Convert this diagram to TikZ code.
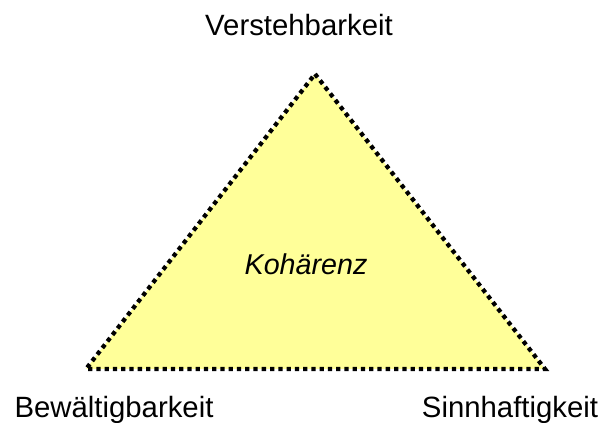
\documentclass[tikz,border=0pt]{standalone}
\usepackage{fontspec}
\setmainfont{Liberation Sans}
\begin{document}
\begin{tikzpicture}[x=0.75pt,y=-0.75pt,
  label/.style={font=\fontsize{22}{26}\selectfont, anchor=base, inner sep=0pt},
  tri/.style={fill=yellowfill, draw=black, line width=3.2pt, dash pattern=on 3.2pt off 3pt}]
\definecolor{yellowfill}{HTML}{FFFF99}
\useasboundingbox (0,0) rectangle (600,423);
\coordinate (top) at (315,74);
\coordinate (left) at (86,369);
\coordinate (right) at (545,369);
\filldraw[tri] (top) -- (right) -- (left) -- cycle;
\node[label] (v) at (299,36) {Verstehbarkeit};
\node[label] (b) at (114,418) {Bewältigbarkeit};
\node[label] (s) at (510,418) {Sinnhaftigkeit};
\node[label, font=\fontsize{21.5}{26}\selectfont\itshape] (k) at (306,275) {Kohärenz};
\end{tikzpicture}
\end{document}
